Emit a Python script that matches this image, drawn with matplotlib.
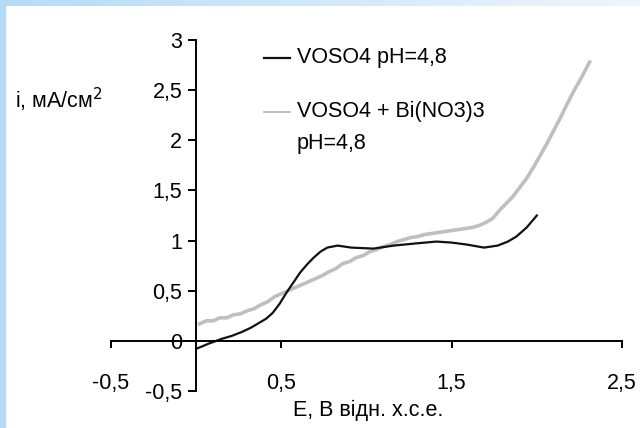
import numpy as np
import matplotlib
matplotlib.use('Agg')
import matplotlib.pyplot as plt
from matplotlib.lines import Line2D
from matplotlib.ticker import FuncFormatter

plt.rcParams['font.family'] = ['Liberation Sans', 'DejaVu Sans']

# VOSO4 pH=4,8 (black)
e_voso4 = [0.00, 0.07, 0.15, 0.21, 0.27, 0.32, 0.37, 0.41, 0.45, 0.49, 0.53, 0.57,
           0.61, 0.65, 0.69, 0.73, 0.77, 0.83, 0.91, 1.04, 1.16, 1.28, 1.41, 1.50,
           1.59, 1.69, 1.77, 1.83, 1.88, 1.94, 2.00]
i_voso4 = [-0.08, -0.03, 0.02, 0.05, 0.09, 0.13, 0.18, 0.22, 0.28, 0.37, 0.48, 0.58,
           0.68, 0.76, 0.83, 0.89, 0.93, 0.95, 0.93, 0.92, 0.95, 0.97, 0.99, 0.98,
           0.96, 0.93, 0.95, 0.99, 1.04, 1.13, 1.25]

# VOSO4 + Bi(NO3)3 pH=4,8 (grey, noisy)
e_bi = [0.02, 0.06, 0.10, 0.14, 0.18, 0.22, 0.26, 0.30, 0.34, 0.38, 0.42, 0.46,
        0.50, 0.54, 0.58, 0.62, 0.66, 0.70, 0.74, 0.78, 0.82, 0.86, 0.90, 0.94,
        0.98, 1.02, 1.06, 1.10, 1.14, 1.18, 1.22, 1.26, 1.30, 1.34, 1.38, 1.42,
        1.46, 1.50, 1.54, 1.58, 1.62, 1.66, 1.70, 1.74, 1.78, 1.82, 1.86, 1.90,
        1.94, 1.98, 2.02, 2.06, 2.10, 2.14, 2.18, 2.22, 2.26, 2.31]
i_bi = [0.17, 0.20, 0.20, 0.23, 0.23, 0.26, 0.27, 0.30, 0.32, 0.36, 0.39, 0.44,
        0.47, 0.50, 0.53, 0.56, 0.59, 0.62, 0.65, 0.69, 0.72, 0.77, 0.79, 0.83,
        0.85, 0.89, 0.91, 0.94, 0.96, 0.99, 1.01, 1.03, 1.04, 1.06, 1.07, 1.08,
        1.09, 1.10, 1.11, 1.12, 1.13, 1.15, 1.18, 1.22, 1.30, 1.37, 1.44, 1.53,
        1.62, 1.73, 1.85, 1.97, 2.10, 2.23, 2.37, 2.50, 2.62, 2.78]

x_ticks = [-0.5, 0.5, 1.5, 2.5]
y_ticks = [-0.5, 0, 0.5, 1, 1.5, 2, 2.5, 3]

def comma(v, pos):
    return ('%g' % v).replace('.', ',')

fs = 15.5
W, H = 640, 428
fig = plt.figure(figsize=(6.4, 4.28), dpi=100)

# light blue frame strip like the slide background
grad = np.linspace(0, 1, 256).reshape(1, -1)
bar = fig.add_axes([0, 1 - 6 / H, 1, 6 / H])
bar.imshow(grad, aspect='auto', cmap=matplotlib.colors.LinearSegmentedColormap.from_list(
    'b', ['#b4dcf8', '#eef6fd']))
bar.axis('off')
fig.patches.append(plt.Rectangle((0, 0), 5 / W, 1, transform=fig.transFigure,
                                 color='#b4dcf8', zorder=0))

ax = fig.add_axes([111 / W, 1 - 391 / H, 511 / W, 351 / H])
ax.plot(e_bi, i_bi, color='#bfbfbf', lw=2.6)
ax.plot(e_voso4, i_voso4, color='#111111', lw=1.6)

ax.set_xlim(-0.5, 2.5)
ax.set_ylim(-0.5, 3)
ax.spines['left'].set_position(('data', 0))
ax.spines['bottom'].set_position(('data', 0))
ax.spines['top'].set_visible(False)
ax.spines['right'].set_visible(False)
for s in ['left', 'bottom']:
    ax.spines[s].set_linewidth(1.4)
ax.set_xticks(x_ticks)
ax.set_yticks(y_ticks)
ax.xaxis.set_major_formatter(FuncFormatter(comma))
ax.yaxis.set_major_formatter(FuncFormatter(comma))
ax.tick_params(axis='x', direction='out', length=5, width=1.4, pad=18, labelsize=fs)
ax.tick_params(axis='y', direction='out', length=6, width=1.4, pad=4, labelsize=fs)

# legend, laid out by hand like the Excel original
fig.add_artist(Line2D([264 / W, 290 / W], [1 - 58 / H] * 2, color='#111111', lw=1.6))
fig.text(297 / W, 1 - 58 / H, 'VOSO4 pH=4,8', fontsize=fs, va='center')
fig.add_artist(Line2D([264 / W, 290 / W], [1 - 112 / H] * 2, color='#bfbfbf', lw=1.4))
fig.text(297 / W, 1 - 112 / H, 'VOSO4 + Bi(NO3)3', fontsize=fs, va='center')
fig.text(297 / W, 1 - 144 / H, 'pH=4,8', fontsize=fs, va='center')

fig.text(15 / W, 1 - 100 / H, 'i, мА/см$^2$', fontsize=fs, va='center', ha='left')
fig.text(368 / W, 1 - 410 / H, 'E, В відн. х.с.е.', fontsize=fs, va='center', ha='center')

fig.savefig('out.png', dpi=100)
